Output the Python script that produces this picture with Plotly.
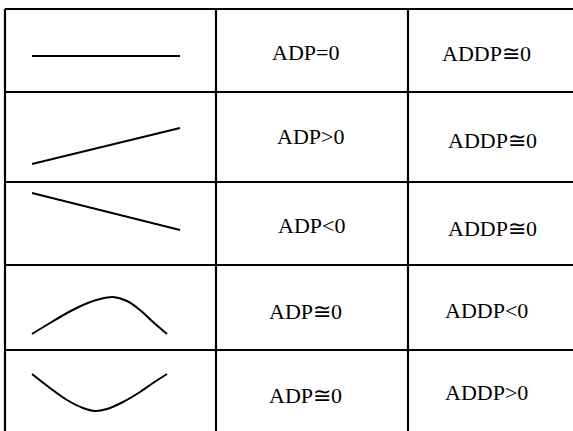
import plotly.graph_objects as go

# labels in the two text columns, one per row
adp_labels = ["ADP=0", "ADP>0", "ADP<0", "ADP≅0", "ADP≅0"]
addp_labels = ["ADDP≅0", "ADDP≅0", "ADDP≅0", "ADDP<0", "ADDP>0"]

# shape sketches of the first column (page pixel units, y down)
flat_x = [32, 180]
flat_y = [56, 56]
rise_x = [32, 180]
rise_y = [164, 128]
fall_x = [32, 180]
fall_y = [193, 230]
hump_x = [32, 50, 67, 83, 100, 113, 127, 140, 153, 167]
hump_y = [334, 323, 313, 305, 299, 297, 301, 310, 322, 334]
dip_x = [32, 50, 67, 83, 95, 107, 123, 140, 153, 167]
dip_y = [374, 388, 400, 408, 411, 409, 402, 392, 383, 374]

sketches = [(flat_x, flat_y), (rise_x, rise_y), (fall_x, fall_y),
            (hump_x, hump_y), (dip_x, dip_y)]

# table grid (pixels)
W, H = 573, 431
left = 5
top = 9
col_lines = [216, 408]
row_lines = [92, 182, 265, 350]

# text centres per row
adp_pos = [(305, 52), (310, 136), (311, 225), (305, 311), (305, 395)]
addp_pos = [(486, 53), (492, 140), (492, 228), (486, 310), (486, 392)]

fig = go.Figure()

for xs, ys in sketches:
    fig.add_trace(go.Scatter(x=xs, y=ys, mode='lines',
                             line=dict(color='black', width=2,
                                       shape='spline'),
                             showlegend=False, hoverinfo='skip'))

grid = dict(color='black', width=2.2)
fig.add_shape(type='line', x0=left, x1=W + 5, y0=top, y1=top, line=grid)
fig.add_shape(type='line', x0=left, x1=left, y0=top, y1=H + 5, line=grid)
for c in col_lines:
    fig.add_shape(type='line', x0=c, x1=c, y0=top, y1=H + 5, line=grid)
for r in row_lines:
    fig.add_shape(type='line', x0=left, x1=W + 5, y0=r, y1=r, line=grid)

for label, (x, y) in zip(adp_labels, adp_pos):
    fig.add_annotation(x=x, y=y, text=label, showarrow=False,
                       xanchor='center', yanchor='middle')
for label, (x, y) in zip(addp_labels, addp_pos):
    fig.add_annotation(x=x, y=y, text=label, showarrow=False,
                       xanchor='center', yanchor='middle')

fig.update_layout(
    width=W, height=H,
    margin=dict(l=0, r=0, t=0, b=0),
    paper_bgcolor='white',
    plot_bgcolor='white',
    font=dict(family='"Liberation Serif", "Times New Roman", "DejaVu Serif", serif',
              size=22, color='black'),
    showlegend=False,
)
fig.update_xaxes(range=[0, W], visible=False, fixedrange=True)
fig.update_yaxes(range=[H, 0], visible=False, fixedrange=True)

# drop the default page margin so the table sits at the window corner
fig.write_html("out.html", config=dict(displayModeBar=False),
               post_script="document.body.style.margin='0';"
                           "document.body.style.overflow='hidden';")
